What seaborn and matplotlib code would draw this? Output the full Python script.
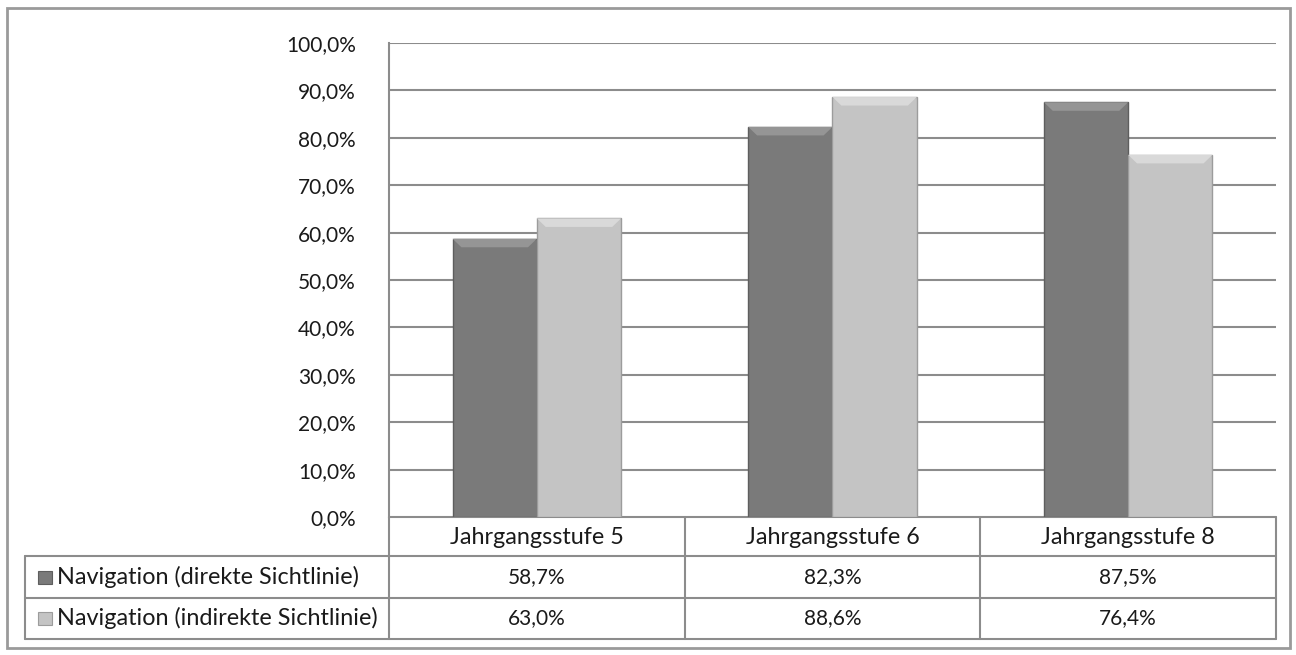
import matplotlib
matplotlib.use("Agg")
import matplotlib.pyplot as plt
import seaborn as sns
import pandas as pd
from matplotlib.patches import Rectangle, Polygon
from matplotlib.lines import Line2D
from matplotlib.ticker import FuncFormatter

categories = ["Jahrgangsstufe 5", "Jahrgangsstufe 6", "Jahrgangsstufe 8"]
series_names = ["Navigation (direkte Sichtlinie)", "Navigation (indirekte Sichtlinie)"]
direkt = [58.7, 82.3, 87.5]
indirekt = [63.0, 88.6, 76.4]
y_ticks = [0, 10, 20, 30, 40, 50, 60, 70, 80, 90, 100]

bar_colors = ["#7a7a7a", "#c4c4c4"]
bevel_colors = ["#959595", "#d9d9d9"]
edge_colors = ["#5e5e5e", "#9c9c9c"]
line_col = "#8c8c8c"
text_col = "#1a1a1a"

df = pd.DataFrame({
    "cat": categories * 2,
    "val": direkt + indirekt,
    "series": [series_names[0]] * 3 + [series_names[1]] * 3,
})

sns.set_theme(style="white")
plt.rcParams["font.family"] = ["Lato", "DejaVu Sans"]

W, H = 1296, 655
fig = plt.figure(figsize=(W / 100, H / 100), dpi=100)
L, R, T, B = 389, 1276, 43, 517
ax = fig.add_axes([L / W, 1 - B / H, (R - L) / W, (B - T) / H])

sns.barplot(data=df, x="cat", y="val", hue="series", palette=bar_colors,
            width=0.57, dodge=True, legend=False, ax=ax, zorder=3,
            saturation=1)

ax.set_ylim(0, 100)
ax.set_xlim(-0.5, len(categories) - 0.5)
ax.set_yticks(y_ticks)
ax.yaxis.set_major_formatter(FuncFormatter(lambda v, p: f"{v:.1f}%".replace(".", ",")))
ax.tick_params(axis="y", length=0, pad=24, labelsize=15, labelcolor=text_col)
ax.set_xticks([])
ax.set_xlabel("")
ax.set_ylabel("")
for s in ["top", "right", "bottom"]:
    ax.spines[s].set_visible(False)
ax.spines["left"].set_color(line_col)
ax.spines["left"].set_linewidth(1.5)
ax.grid(False)
for t in y_ticks[1:]:
    ax.axhline(t, color=line_col, lw=1.5, zorder=1)

# bar styling with bevel on top
n = len(categories)
for i, p in enumerate(ax.patches):
    si = i // n
    p.set_edgecolor(edge_colors[si])
    p.set_linewidth(1.0)
    x, y, w, h = p.get_x(), p.get_y(), p.get_width(), p.get_height()
    dx, dy = 0.03, 1.8
    poly = Polygon([(x, y + h), (x + w, y + h), (x + w - dx, y + h - dy), (x + dx, y + h - dy)],
                   closed=True, facecolor=bevel_colors[si], edgecolor="none", zorder=4)
    ax.add_patch(poly)

# helpers: pixel -> axes fraction
def axx(px):
    return (px - L) / (R - L)

def axy(py):
    return (B - py) / (B - T)

row_lines = [556, 598, 639]
tbl_left = 25
lk = dict(color=line_col, lw=1.5, transform=ax.transAxes, clip_on=False)
ax.add_line(Line2D([0, 1], [0, 0], **lk))
for ry in row_lines:
    ax.add_line(Line2D([axx(tbl_left), 1], [axy(ry), axy(ry)], **lk))
ax.add_line(Line2D([axx(tbl_left), axx(tbl_left)], [axy(row_lines[0]), axy(row_lines[-1])], **lk))
ax.add_line(Line2D([0, 0], [0, axy(row_lines[-1])], **lk))
xt = ax.get_xaxis_transform()
for k in range(1, n + 1):
    xb = k - 0.5
    ax.add_line(Line2D([xb, xb], [0, axy(row_lines[-1])], color=line_col, lw=1.5,
                       transform=xt, clip_on=False))

fs_num = 15
fs_txt = 16.8
row_centers = [537, 577, 618]
for j, c in enumerate(categories):
    ax.text(j, axy(row_centers[0]), c, transform=xt, ha="center", va="center",
            fontsize=fs_txt, color=text_col)
for si, vals in enumerate([direkt, indirekt]):
    yc = axy(row_centers[si + 1])
    for j, v in enumerate(vals):
        ax.text(j, yc, f"{v:.1f}%".replace(".", ","), transform=xt, ha="center",
                va="center", fontsize=fs_num, color=text_col)
    ax.add_patch(Rectangle((axx(38), yc - 6.5 / (B - T)), 14 / (R - L), 13 / (B - T),
                           transform=ax.transAxes, clip_on=False,
                           facecolor=bar_colors[si], edgecolor=edge_colors[si], lw=0.8))
    ax.text(axx(57), yc, series_names[si], transform=ax.transAxes, ha="left",
            va="center", fontsize=fs_txt, color=text_col)

fig.patches.append(Rectangle((7 / W, 1 - 648 / H), (1290 - 7) / W, (648 - 8) / H,
                             transform=fig.transFigure, fill=False,
                             edgecolor="#9a9a9a", lw=2))

fig.savefig("out.png", dpi=100, facecolor="white")
